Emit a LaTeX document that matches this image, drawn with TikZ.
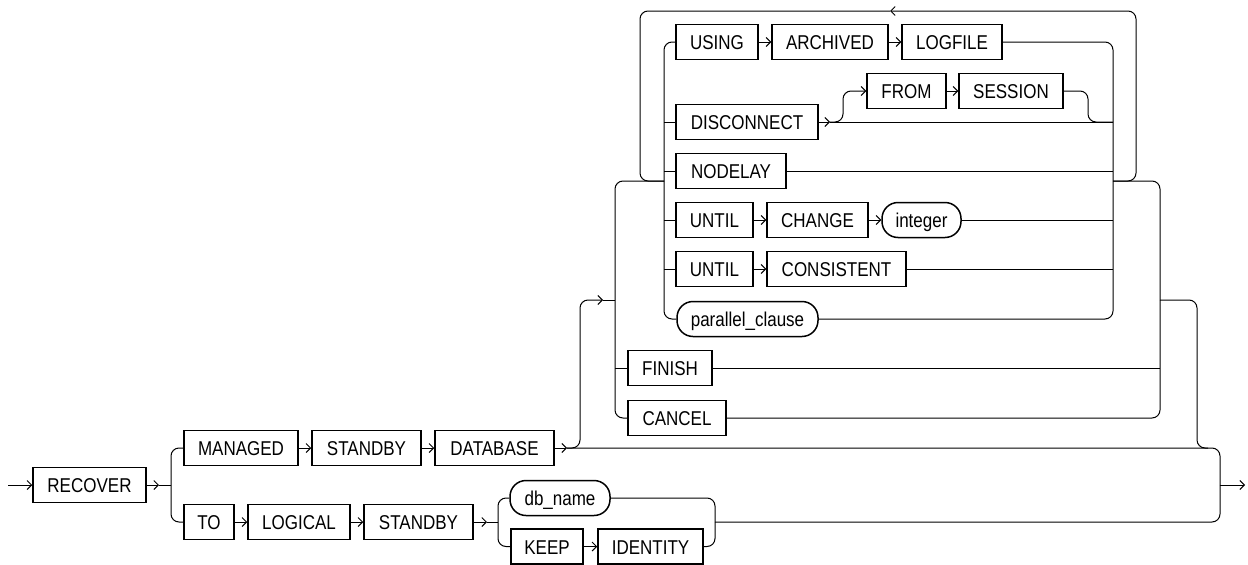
\documentclass[tikz,border=0pt]{standalone}
\usepackage{fontspec}
\setmainfont{Liberation Sans}[FakeStretch=0.85]
\usetikzlibrary{arrows.meta}
\tikzset{
  kw/.style={draw,line width=1.5pt,minimum height=35pt,inner sep=0pt,
    text height=15pt,text depth=0pt,font=\fontsize{20}{24}\selectfont},
  nt/.style={kw,rounded corners=16pt},
  rail/.style={line width=1pt,rounded corners=8pt},
  arr/.style={rail,-{Straight Barb[length=4.5pt,width=9pt]}},
}
\begin{document}
\begin{tikzpicture}[x=1pt,y=-1pt]
  \useasboundingbox (0,0) rectangle (1248,565);
  % main path
  \node[kw,minimum width=113pt] (recover) at (89.5,485) {RECOVER};
  \node[kw,minimum width=114pt] (managed) at (241,448) {MANAGED};
  \node[kw,minimum width=109pt] (standbyA) at (366.5,448) {STANDBY};
  \node[kw,minimum width=119pt] (database) at (494.5,448) {DATABASE};
  \node[kw,minimum width=50pt] (to) at (209,522) {TO};
  \node[kw,minimum width=102pt] (logical) at (299,522) {LOGICAL};
  \node[kw,minimum width=109pt] (standbyB) at (418.5,522) {STANDBY};
  \node[nt,minimum width=100pt] (dbname) at (560,498) {db\_name};
  \node[kw,minimum width=72pt] (keep) at (547,546.5) {KEEP};
  \node[kw,minimum width=105pt] (identity) at (650.5,546.5) {IDENTITY};
  % managed options
  \node[kw,minimum width=82pt] (using) at (717,42) {USING};
  \node[kw,minimum width=116pt] (archived) at (830,42) {ARCHIVED};
  \node[kw,minimum width=100pt] (logfile) at (952,42) {LOGFILE};
  \node[kw,minimum width=142pt] (disconnect) at (747,122) {DISCONNECT};
  \node[kw,minimum width=79pt] (from) at (906.5,91) {FROM};
  \node[kw,minimum width=104pt] (session) at (1011,91) {SESSION};
  \node[kw,minimum width=110pt] (nodelay) at (731,171) {NODELAY};
  \node[kw,minimum width=77pt] (untilA) at (714.5,220) {UNTIL};
  \node[kw,minimum width=101pt] (change) at (817.5,220) {CHANGE};
  \node[nt,minimum width=79pt] (integer) at (921.5,220) {integer};
  \node[kw,minimum width=77pt] (untilB) at (714.5,269) {UNTIL};
  \node[kw,minimum width=139pt] (consistent) at (836.5,269) {CONSISTENT};
  \node[nt,minimum width=141pt] (parallel) at (747.5,319) {parallel\_clause};
  \node[kw,minimum width=84pt] (finish) at (670,368) {FINISH};
  \node[kw,minimum width=98pt] (cancel) at (677,418) {CANCEL};
  % junctions
  \coordinate (in) at (8,485);
  \coordinate (out) at (1245,485);
  \coordinate (r1) at (159,485);
  \coordinate (s1) at (171,485);
  \coordinate (d1) at (567,448);
  \coordinate (up) at (580,300);
  \coordinate (e2) at (603,300);
  \coordinate (g2) at (615,300);
  \coordinate (i1) at (664,181);
  \coordinate (i2) at (1113,181);
  \coordinate (g3) at (1160,300);
  \coordinate (k1) at (1197,448);
  \coordinate (k2) at (1208,448);
  \coordinate (fin) at (1220,485);
  \coordinate (lpR) at (1136,11);
  \coordinate (lpM) at (890,11);
  \coordinate (lpL) at (640,11);
  \coordinate (r2) at (487,522);
  \coordinate (s3) at (498,522);
  \coordinate (j3) at (715,522);
  \coordinate (r3) at (830,122);
  \coordinate (s4) at (843,91);
  \coordinate (s5) at (1088,122);
  % main line
  \draw[arr] (in) -- (recover.west);
  \draw[arr] (recover.east) -- (r1);
  \draw[rail] (r1) -- (s1);
  \draw[rail] (s1) |- (managed.west);
  \draw[rail] (s1) |- (to.west);
  \draw[arr] (managed) -- (standbyA);
  \draw[arr] (standbyA) -- (database);
  \draw[arr] (database.east) -- (d1);
  \draw[rail] (d1) -| (fin);
  \draw[arr] (fin) -- (out);
  \draw[arr] (to) -- (logical);
  \draw[arr] (logical) -- (standbyB);
  \draw[arr] (standbyB.east) -- (r2);
  \draw[rail] (r2) -- (s3);
  \draw[rail] (s3) |- (dbname.west);
  \draw[rail] (s3) |- (keep.west);
  \draw[arr] (keep) -- (identity);
  \draw[rail] (dbname.east) -| (j3);
  \draw[rail] (identity.east) -| (j3);
  \draw[rail] (j3) -| (fin);
  % outer choice
  \draw[arr] (d1) -| (up) -- (e2);
  \draw[rail] (e2) -- (g2);
  \draw[rail] (g2) |- (i1);
  \draw[rail] (g2) |- (cancel.west);
  \draw[rail] (finish.west -| g2) -- (finish.west);
  \draw[rail] (i2) -| (g3);
  \draw[rail] (cancel.east) -| (g3);
  \draw[rail] (finish.east) -- (finish.east -| g3);
  \draw[rail] (g3) -| (k1) -- (k2);
  % inner choice, repeated
  \draw[arr] (i2) -| (lpR) -- (lpM);
  \draw[rail] (lpM) -- (lpL) |- (i1);
  \draw[rail] (i1) |- (using.west);
  \draw[rail] (i1) |- (parallel.west);
  \draw[rail] (disconnect.west -| i1) -- (disconnect.west);
  \draw[rail] (nodelay.west -| i1) -- (nodelay.west);
  \draw[rail] (untilA.west -| i1) -- (untilA.west);
  \draw[rail] (untilB.west -| i1) -- (untilB.west);
  \draw[arr] (using) -- (archived);
  \draw[arr] (archived) -- (logfile);
  \draw[rail] (logfile.east) -| (i2);
  \draw[arr] (disconnect.east) -- (r3);
  \draw[rail] (r3) -- (r3 -| i2);
  \draw[arr] (r3) -| (s4) -- (from.west);
  \draw[arr] (from) -- (session);
  \draw[rail] (session.east) -| (s5) -- (s5 -| i2);
  \draw[rail] (nodelay.east) -- (nodelay.east -| i2);
  \draw[arr] (untilA) -- (change);
  \draw[arr] (change) -- (integer);
  \draw[rail] (integer.east) -- (integer.east -| i2);
  \draw[arr] (untilB) -- (consistent);
  \draw[rail] (consistent.east) -- (consistent.east -| i2);
  \draw[rail] (parallel.east) -| (i2);
\end{tikzpicture}
\end{document}
